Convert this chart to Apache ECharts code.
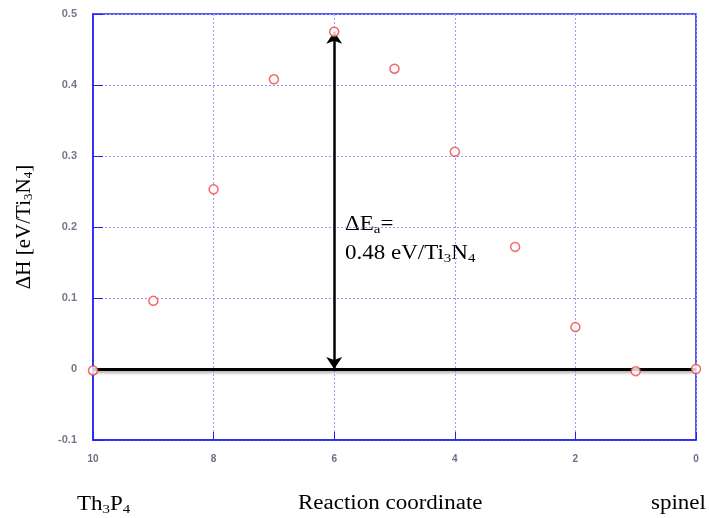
<!DOCTYPE html>
<html><head><meta charset="utf-8">
<script src="https://cdn.jsdelivr.net/npm/echarts@6/dist/echarts.min.js"></script>
<style>html,body{margin:0;padding:0;background:#fff}#c{width:709px;height:518px}</style>
</head><body><div id="c"></div>
<script>
const reactionCoord = [10, 9, 8, 7, 6, 5, 4, 3, 2, 1, 0];
const deltaH = [-0.002, 0.096, 0.253, 0.408, 0.475, 0.423, 0.306, 0.172, 0.059, -0.003, 0.0];
const xTicks = [0, 2, 4, 6, 8, 10];
const yTicks = [-0.1, 0, 0.1, 0.2, 0.3, 0.4, 0.5];
const barrierX = 6;
const barrierTop = 0.475;

const serif = '"Liberation Serif", "DejaVu Serif", serif';
const sub = {fontFamily: serif, fontSize: 13, color: '#000', padding: [9, 0, 0, 0]};
const big = {fontFamily: serif, fontSize: 20, color: '#000'};
const blue = '#2222ee';
const chart = echarts.init(document.getElementById('c'));
chart.setOption({
  animation: false,
  grid: {left: 93, right: 13, top: 14, bottom: 78, show: true, borderColor: blue, borderWidth: 1.5, backgroundColor: 'transparent'},
  xAxis: {
    type: 'value', inverse: true, min: 0, max: 10, interval: 2,
    axisLine: {show: true, onZero: false, lineStyle: {color: blue, width: 1.5}},
    axisTick: {show: true, inside: true, length: 8, lineStyle: {color: blue}},
    axisLabel: {margin: 14, fontSize: 10, fontWeight: 'bold', color: '#776688', fontFamily: 'Liberation Sans'},
    splitLine: {show: true, lineStyle: {color: '#9999ff', type: [2, 2], width: 1}}
  },
  yAxis: {
    type: 'value', min: -0.1, max: 0.5, interval: 0.1,
    axisLine: {show: true, onZero: false, lineStyle: {color: blue, width: 1.5}},
    axisTick: {show: true, inside: true, length: 10, lineStyle: {color: blue}},
    axisLabel: {margin: 16, fontSize: 11, fontWeight: 'bold', color: '#777788', fontFamily: 'Liberation Sans',
      formatter: v => String(Math.round(v * 10) / 10)},
    splitLine: {show: true, lineStyle: {color: '#9999ff', type: [2, 2], width: 1}},
    name: '{t|ΔH [eV/Ti}{s|3}{t|N}{s|4}{t|]}',
    nameLocation: 'middle', nameGap: 58, nameRotate: 90,
    nameTextStyle: {rich: {t: {fontFamily: serif, fontSize: 21, color: '#000'}, s: sub}}
  },
  series: [{
    type: 'scatter',
    data: reactionCoord.map((x, i) => [x, deltaH[i]]),
    symbol: 'circle', symbolSize: 9,
    itemStyle: {color: '#fff', borderColor: '#ee4444', borderWidth: 1.5},
    z: 5,
    markLine: {
      silent: true, z: 3,
      label: {show: false},
      data: [
        [{coord: [10, 0], symbol: 'none', lineStyle: {color: '#000', width: 3, type: 'solid', shadowColor: 'rgba(0,0,0,0.35)', shadowBlur: 3, shadowOffsetY: 2}},
         {coord: [0, 0], symbol: 'none'}],
        [{coord: [barrierX, 0], symbol: 'arrow', symbolSize: [12, 12], lineStyle: {color: '#000', width: 2.5, type: 'solid'}},
         {coord: [barrierX, barrierTop], symbol: 'arrow', symbolSize: [12, 12]}]
      ]
    }
  }],
  graphic: [
    {type: 'text', x: 345, y: 214, scaleX: 1.15, style: {
      text: '{t|ΔE}{s|a}{t|=}', rich: {t: big, s: sub}}},
    {type: 'text', x: 345, y: 243, scaleX: 1.15, style: {
      text: '{t|0.48 eV/Ti}{s|3}{t|N}{s|4}', rich: {t: big, s: sub}}},
    {type: 'text', x: 77, y: 494, scaleX: 1.15, style: {
      text: '{t|Th}{s|3}{t|P}{s|4}', rich: {t: big, s: sub}}},
    {type: 'text', x: 298, y: 494, scaleX: 1.15, style: {text: 'Reaction coordinate', font: '20px "Liberation Serif"', fill: '#000'}},
    {type: 'text', x: 651, y: 494, scaleX: 1.15, style: {text: 'spinel', font: '20px "Liberation Serif"', fill: '#000'}}
  ]
});
</script></body></html>
